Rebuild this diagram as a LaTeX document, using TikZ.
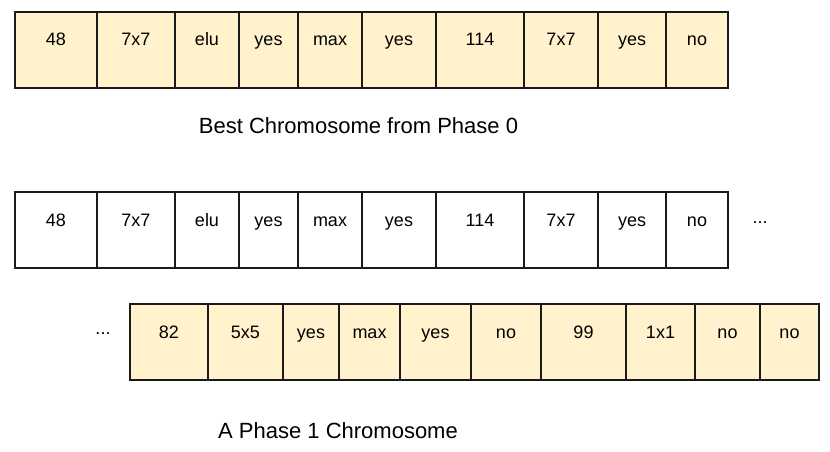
\documentclass[tikz,border=0pt]{standalone}
\usepackage{fontspec}
\setmainfont{Liberation Sans}
\usetikzlibrary{positioning}

\definecolor{genefill}{HTML}{FFF2CC}
\definecolor{geneline}{HTML}{1A1A1A}

\tikzset{
    gene/.style={draw=geneline, line width=1.3pt, minimum height=76pt,
        inner sep=0pt, outer sep=0pt, text height=11pt, text depth=19pt,
        font=\fontsize{18}{21}\selectfont},
    oldgene/.style={gene, fill=genefill},
    newgene/.style={gene, fill=white},
    caption/.style={anchor=base, font=\fontsize{22}{26}\selectfont},
    dots/.style={anchor=base, font=\fontsize{18}{21}\selectfont}
}

\begin{document}
\begin{tikzpicture}[x=1pt,y=-1pt]

        \useasboundingbox (0,0) rectangle (830,452);

        % best chromosome from phase 0
        \node[oldgene, minimum width=82pt, anchor=north west] (b1) at (15,12) {48};
        \node[oldgene, minimum width=78pt, right=0pt of b1] (b2) {7x7};
        \node[oldgene, minimum width=64pt, right=0pt of b2] (b3) {elu};
        \node[oldgene, minimum width=59pt, right=0pt of b3] (b4) {yes};
        \node[oldgene, minimum width=64pt, right=0pt of b4] (b5) {max};
        \node[oldgene, minimum width=74pt, right=0pt of b5] (b6) {yes};
        \node[oldgene, minimum width=88pt, right=0pt of b6] (b7) {114};
        \node[oldgene, minimum width=74pt, right=0pt of b7] (b8) {7x7};
        \node[oldgene, minimum width=68pt, right=0pt of b8] (b9) {yes};
        \node[oldgene, minimum width=62pt, right=0pt of b9] (b10) {no};

        \node[caption] (bestlabel) at (358.5,133) {Best Chromosome from Phase 0};

        % phase 1 chromosome, first part
        \node[newgene, minimum width=82pt, anchor=north west] (c1) at (15,192) {48};
        \node[newgene, minimum width=78pt, right=0pt of c1] (c2) {7x7};
        \node[newgene, minimum width=64pt, right=0pt of c2] (c3) {elu};
        \node[newgene, minimum width=59pt, right=0pt of c3] (c4) {yes};
        \node[newgene, minimum width=64pt, right=0pt of c4] (c5) {max};
        \node[newgene, minimum width=74pt, right=0pt of c5] (c6) {yes};
        \node[newgene, minimum width=88pt, right=0pt of c6] (c7) {114};
        \node[newgene, minimum width=74pt, right=0pt of c7] (c8) {7x7};
        \node[newgene, minimum width=68pt, right=0pt of c8] (c9) {yes};
        \node[newgene, minimum width=62pt, right=0pt of c9] (c10) {no};
        \node[dots] (dotsc) at (760,223) {...};

        % phase 1 chromosome, second part
        \node[dots] (dotsp) at (103,334) {...};
        \node[oldgene, minimum width=78pt, anchor=north west] (p1) at (130,304) {82};
        \node[oldgene, minimum width=75pt, right=0pt of p1] (p2) {5x5};
        \node[oldgene, minimum width=56pt, right=0pt of p2] (p3) {yes};
        \node[oldgene, minimum width=61pt, right=0pt of p3] (p4) {max};
        \node[oldgene, minimum width=71pt, right=0pt of p4] (p5) {yes};
        \node[oldgene, minimum width=70pt, right=0pt of p5] (p6) {no};
        \node[oldgene, minimum width=85pt, right=0pt of p6] (p7) {99};
        \node[oldgene, minimum width=69pt, right=0pt of p7] (p8) {1x1};
        \node[oldgene, minimum width=65pt, right=0pt of p8] (p9) {no};
        \node[oldgene, minimum width=59pt, right=0pt of p9] (p10) {no};

        \node[caption] (phaselabel) at (338,438) {A Phase 1 Chromosome};

\end{tikzpicture}
\end{document}
